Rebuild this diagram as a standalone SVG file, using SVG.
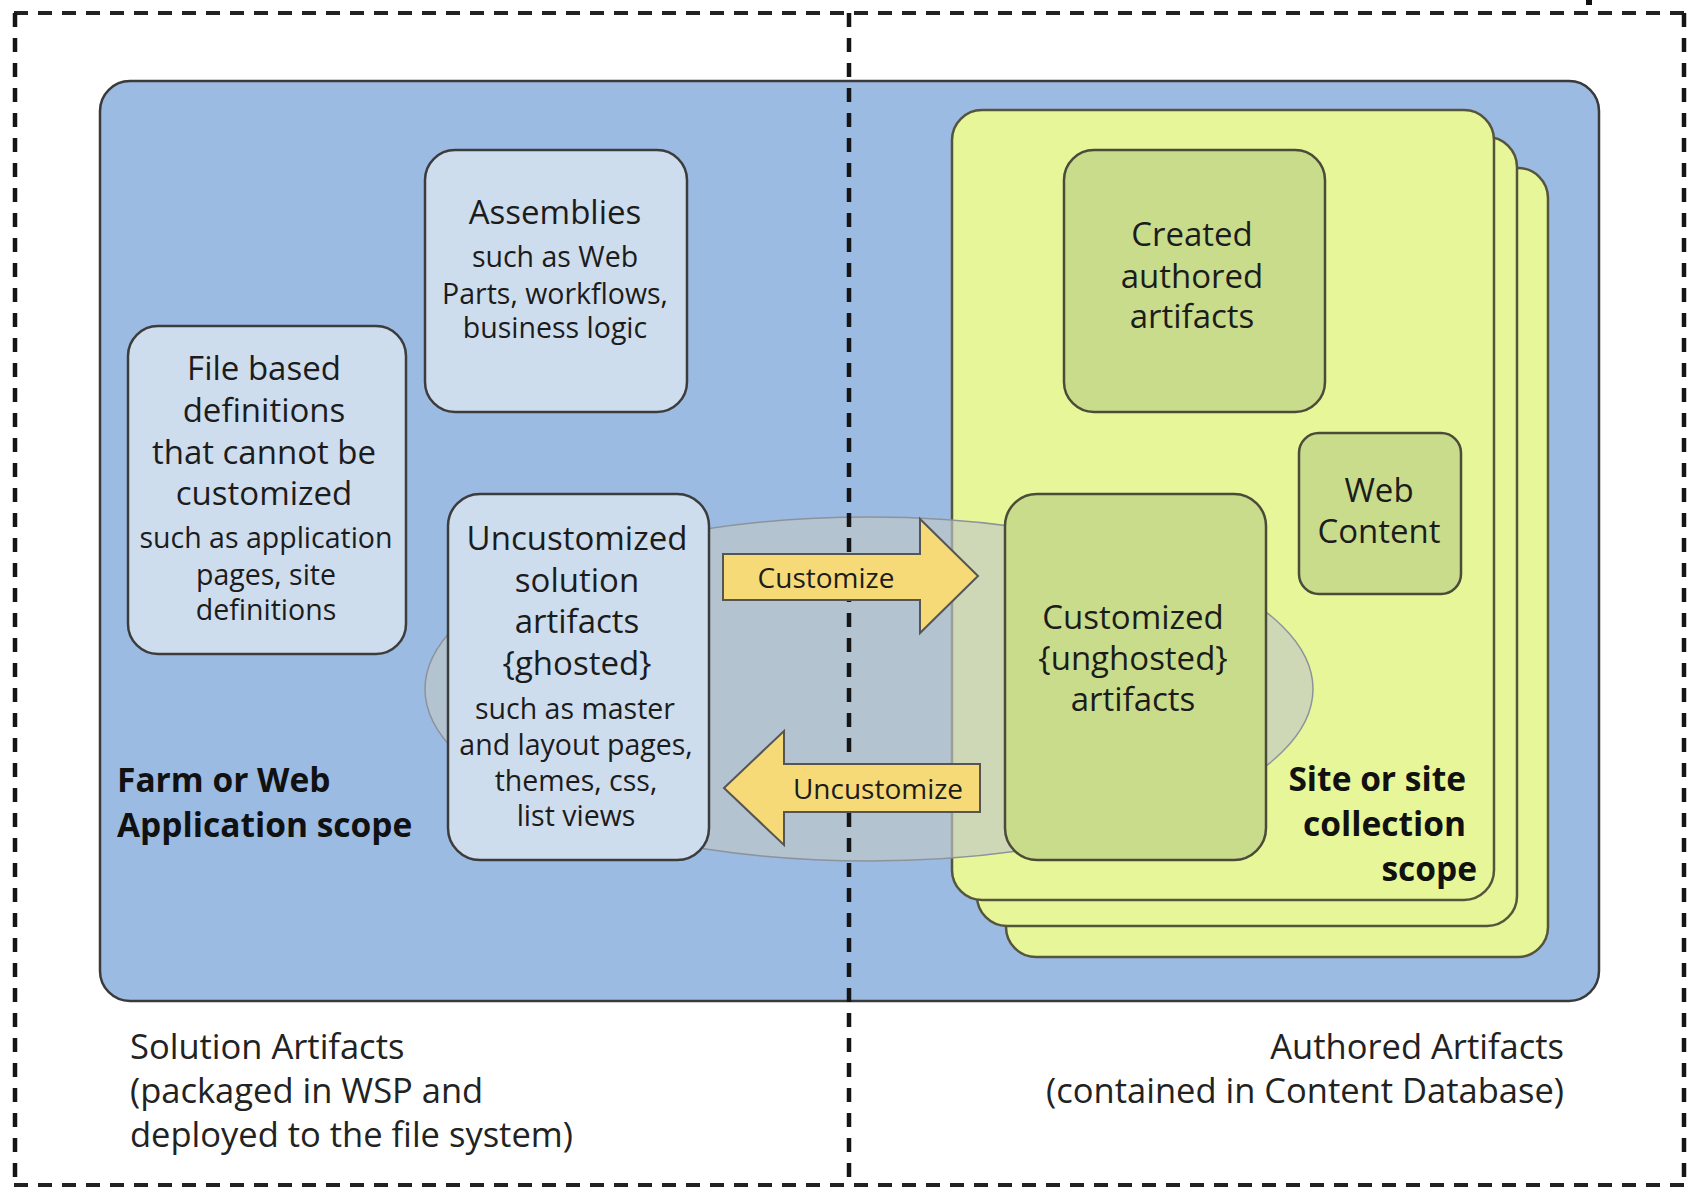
<svg xmlns="http://www.w3.org/2000/svg" width="1687" height="1188" viewBox="0 0 1687 1188">
<style>
.t{font-family:"Open Sans","Noto Sans",sans-serif;fill:#1c1c1c;text-anchor:middle}
.big{font-size:33px}
.sm{font-size:28.5px}
.lbl{font-size:28px}
.b{font-family:"Open Sans","Noto Sans",sans-serif;font-weight:bold;font-size:33.5px;fill:#111}
.cap{font-family:"Open Sans","Noto Sans",sans-serif;font-size:34.5px;fill:#222}
.dh{fill:none;stroke:#222;stroke-width:3.8;stroke-dasharray:14 10}
.dv{fill:none;stroke:#151515;stroke-width:4.5;stroke-dasharray:14 11}
.bluebox{fill:#cedded;stroke:#3c3c3c;stroke-width:2.5}
.greenbox{fill:#c9dc8c;stroke:#4b4b3a;stroke-width:2.5}
.page{fill:#e6f698;stroke:#55553e;stroke-width:2.5}
.arrow{fill:#f6da78;stroke:#555;stroke-width:2}
</style>
<g id="frame">
<line x1="14" y1="13" x2="1687" y2="13" class="dh"/>
<line x1="14" y1="1185" x2="1687" y2="1185" class="dh"/>
<line x1="15" y1="13" x2="15" y2="1185" class="dv"/>
<line x1="1684" y1="13" x2="1684" y2="1185" class="dv"/>
<rect x="1586" y="0" width="6" height="5" fill="#111"/>
</g>
<g id="farm-scope">
<rect x="100" y="81" width="1499" height="920" rx="30" fill="#9cbbe3" stroke="#3a3a3a" stroke-width="2.5"/>
<text class="b" x="117" y="792">Farm or Web</text>
<text class="b" x="117" y="837">Application scope</text>
</g>
<g id="site-scope">
<rect class="page" x="1006" y="168" width="542" height="789" rx="30"/>
<rect class="page" x="977" y="137" width="540" height="789" rx="30"/>
<rect class="page" x="952" y="110" width="542" height="790" rx="30"/>
<text class="b" x="1466" y="791" text-anchor="end">Site or site</text>
<text class="b" x="1466" y="836" text-anchor="end">collection</text>
<text class="b" x="1477" y="881" text-anchor="end">scope</text>
</g>
<g id="assemblies">
<rect class="bluebox" x="425" y="150" width="262" height="262" rx="30"/>
<text class="t big" x="555" y="224">Assemblies</text>
<text class="t sm" x="555" y="267">such as Web</text>
<text class="t sm" x="555" y="304">Parts, workflows,</text>
<text class="t sm" x="555" y="338">business logic</text>
</g>
<g id="file-based">
<rect class="bluebox" x="128" y="326" width="278" height="328" rx="30"/>
<text class="t big" x="264" y="380">File based</text>
<text class="t big" x="264" y="422">definitions</text>
<text class="t big" x="264" y="464">that cannot be</text>
<text class="t big" x="264" y="505">customized</text>
<text class="t sm" x="266" y="548">such as application</text>
<text class="t sm" x="266" y="585">pages, site</text>
<text class="t sm" x="266" y="620">definitions</text>
</g>
<g id="created">
<rect class="greenbox" x="1064" y="150" width="261" height="262" rx="30"/>
<text class="t big" x="1192" y="246">Created</text>
<text class="t big" x="1192" y="288">authored</text>
<text class="t big" x="1192" y="328">artifacts</text>
</g>
<g id="web-content">
<rect class="greenbox" x="1299" y="433" width="162" height="161" rx="20" stroke-width="1.5"/>
<text class="t big" x="1379" y="502">Web</text>
<text class="t big" x="1379" y="543">Content</text>
</g>
<g id="overlap">
<ellipse cx="869" cy="689" rx="444" ry="172" fill="#c2c7c6" fill-opacity="0.65" stroke="#8d939b" stroke-width="1.5"/>
</g>
<g id="uncustomized">
<rect class="bluebox" x="448" y="494" width="261" height="366" rx="32"/>
<text class="t big" x="577" y="550">Uncustomized</text>
<text class="t big" x="577" y="592">solution</text>
<text class="t big" x="577" y="633">artifacts</text>
<text class="t big" x="577" y="675">{ghosted}</text>
<text class="t sm" x="575" y="719">such as master</text>
<text class="t sm" x="576" y="755">and layout pages,</text>
<text class="t sm" x="576" y="791">themes, css,</text>
<text class="t sm" x="576" y="826">list views</text>
</g>
<g id="customized">
<rect class="greenbox" x="1005" y="494" width="261" height="366" rx="32"/>
<text class="t big" x="1133" y="629">Customized</text>
<text class="t big" x="1133" y="670">{unghosted}</text>
<text class="t big" x="1133" y="711">artifacts</text>
</g>
<g id="divider">
<line x1="849" y1="13" x2="849" y2="1185" class="dv"/>
</g>
<g id="connectors">
<polygon class="arrow" points="723,554 920,554 920,519 978,576 920,633 920,600 723,600"/>
<text class="t lbl" x="826" y="588">Customize</text>
<polygon class="arrow" points="980,764 784,764 784,731 724,788 784,845 784,812 980,812"/>
<text class="t lbl" x="878" y="799">Uncustomize</text>
</g>
<g id="captions">
<text class="cap" x="130" y="1059">Solution Artifacts</text>
<text class="cap" x="130" y="1103">(packaged in WSP and</text>
<text class="cap" x="130" y="1147">deployed to the file system)</text>
<text class="cap" x="1564" y="1059" text-anchor="end">Authored Artifacts</text>
<text class="cap" x="1564" y="1103" text-anchor="end">(contained in Content Database)</text>
</g>
</svg>
